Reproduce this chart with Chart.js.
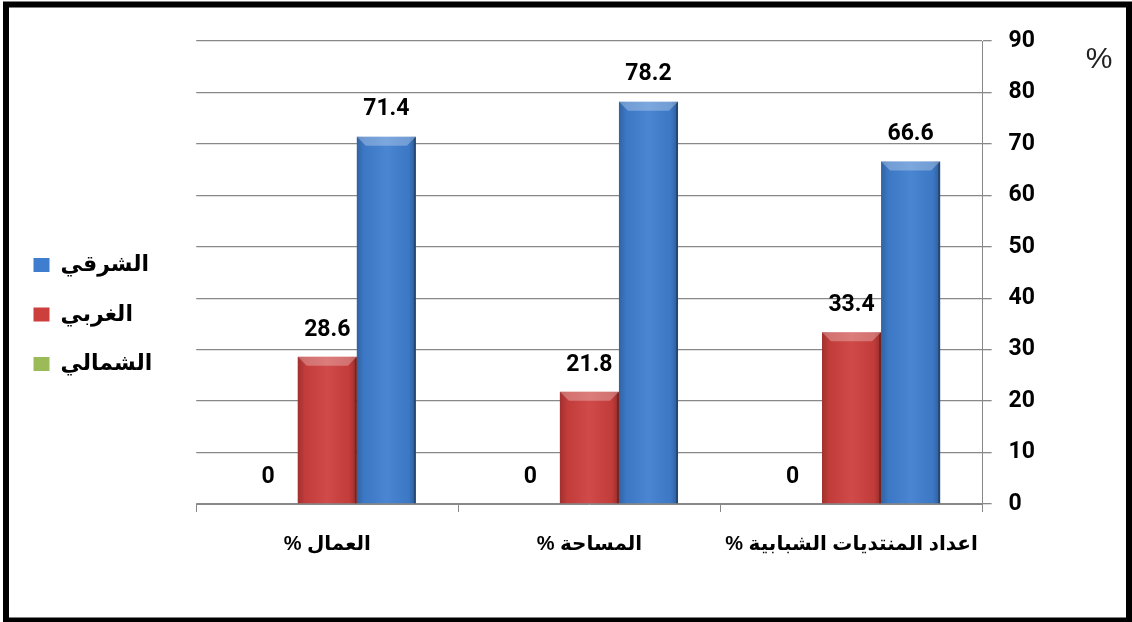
<!DOCTYPE html>
<html>
<head>
<meta charset="utf-8">
<script src="https://cdn.jsdelivr.net/npm/chart.js@4"></script>
<style>
html,body{margin:0;padding:0;background:#fff;}
#wrap{width:1132px;height:622px;position:relative;}
</style>
</head>
<body>
<div id="wrap"><canvas id="c" width="1132" height="622"></canvas></div>
<script>
const categories = ["العمال %", "المساحة %", "اعداد المنتديات الشبابية %"];
const seriesNames = ["الشمالي", "الغربي", "الشرقي"];
const shamali = [0, 0, 0];
const gharbi = [28.6, 21.8, 33.4];
const sharqi = [71.4, 78.2, 66.6];
const yTicks = [0, 10, 20, 30, 40, 50, 60, 70, 80, 90];

const NUM_FONT = "Roboto, 'Open Sans', sans-serif";
const AR_FONT = "'Liberation Sans', 'DejaVu Sans', sans-serif";

const framePlugin = {
  id: 'frame',
  beforeDraw(chart) {
    const c = chart.ctx;
    c.save();
    c.fillStyle = '#fff';
    c.fillRect(0, 0, chart.width, chart.height);
    c.restore();
  },
  afterDraw(chart) {
    const c = chart.ctx;
    c.save();
    c.strokeStyle = '#000';
    c.lineWidth = 6;
    c.strokeRect(6, 4.5, 1123, 616);
    c.fillStyle = '#222';
    c.font = "30px " + AR_FONT;
    c.textAlign = 'center';
    c.textBaseline = 'middle';
    c.fillText('%', 1099, 60);
    c.restore();
  }
};

const bevelPlugin = {
  id: 'bevel',
  afterDatasetsDraw(chart) {
    const c = chart.ctx;
    c.save();
    chart.data.datasets.forEach((ds, di) => {
      const meta = chart.getDatasetMeta(di);
      meta.data.forEach((el, i) => {
        const p = el.getProps(['x', 'y', 'base', 'width'], true);
        const l = p.x - p.width / 2, r = p.x + p.width / 2;
        const t = Math.min(p.y, p.base), b = Math.max(p.y, p.base);
        if (b - t < 1) return;
        const g = c.createLinearGradient(l, 0, r, 0);
        g.addColorStop(0, 'rgba(0,0,0,0.22)');
        g.addColorStop(0.12, 'rgba(0,0,0,0.05)');
        g.addColorStop(0.5, 'rgba(255,255,255,0.06)');
        g.addColorStop(0.88, 'rgba(0,0,0,0.05)');
        g.addColorStop(1, 'rgba(0,0,0,0.28)');
        c.fillStyle = g;
        c.fillRect(l, t, r - l, b - t);
        const bv = Math.min(9, (b - t) / 2);
        c.beginPath();
        c.moveTo(l, t); c.lineTo(r, t); c.lineTo(r - bv, t + bv); c.lineTo(l + bv, t + bv); c.closePath();
        c.fillStyle = 'rgba(255,255,255,0.28)';
        c.fill();
        c.beginPath();
        c.moveTo(r, t); c.lineTo(r, b); c.lineTo(r - 2, b); c.lineTo(r - 2, t + 2); c.closePath();
        c.fillStyle = 'rgba(0,0,0,0.25)';
        c.fill();
      });
    });
    c.restore();
    // value labels
    c.save();
    c.font = "bold 23px " + NUM_FONT;
    c.fillStyle = '#000';
    c.textAlign = 'center';
    c.textBaseline = 'middle';
    chart.data.datasets.forEach((ds, di) => {
      const meta = chart.getDatasetMeta(di);
      meta.data.forEach((el, i) => {
        const p = el.getProps(['x', 'y'], true);
        c.fillText(String(ds.data[i]), p.x, p.y - 27);
      });
    });
    c.restore();
  }
};

new Chart(document.getElementById('c'), {
  type: 'bar',
  data: {
    labels: categories,
    datasets: [
      { label: seriesNames[0], data: shamali, backgroundColor: '#9BBB59', borderWidth: 0, yAxisID: 'y' },
      { label: seriesNames[1], data: gharbi, backgroundColor: '#CC3F3D', borderWidth: 0, yAxisID: 'y' },
      { label: seriesNames[2], data: sharqi, backgroundColor: '#3F7ECF', borderWidth: 0, yAxisID: 'y' }
    ]
  },
  options: {
    responsive: false,
    animation: false,
    devicePixelRatio: 1,
    layout: { padding: { left: 6, right: 80, top: 41, bottom: 46 } },
    datasets: { bar: { barPercentage: 1, categoryPercentage: 0.676 } },
    plugins: {
      tooltip: { enabled: false },
      legend: {
        position: 'left',
        reverse: true,
        title: { display: true, text: ' ', padding: 0, font: { size: 10 } },
        labels: {
          boxWidth: 16,
          boxHeight: 14,
          padding: 27.5,
          color: '#000',
          font: { family: AR_FONT, size: 22, weight: 'bold' }
        }
      }
    },
    scales: {
      x: {
        grid: { display: true, drawOnChartArea: false, offset: true, color: '#888', tickLength: 8 },
        border: { display: true, color: '#888' },
        ticks: {
          color: '#000', padding: 20, autoSkip: false, maxRotation: 0,
          font: { family: AR_FONT, size: 20, weight: 'bold' },
          callback(v, i) { return this.getLabelForValue(v) + '\u200F'; }
        }
      },
      yL: {
        position: 'left',
        display: true,
        grid: { display: false },
        border: { display: false },
        ticks: { display: false },
        afterFit(s) { s.width = 34; }
      },
      y: {
        position: 'right',
        min: 0,
        max: 90,
        afterBuildTicks(s) { s.ticks = yTicks.map(v => ({ value: v })); },
        grid: { color: '#888', tickLength: 9, lineWidth: 1.3 },
        border: { display: true, color: '#888' },
        ticks: { color: '#000', padding: 17, font: { family: NUM_FONT, size: 23, weight: 'bold' } }
      }
    }
  },
  plugins: [framePlugin, bevelPlugin]
});
</script>
</body>
</html>
